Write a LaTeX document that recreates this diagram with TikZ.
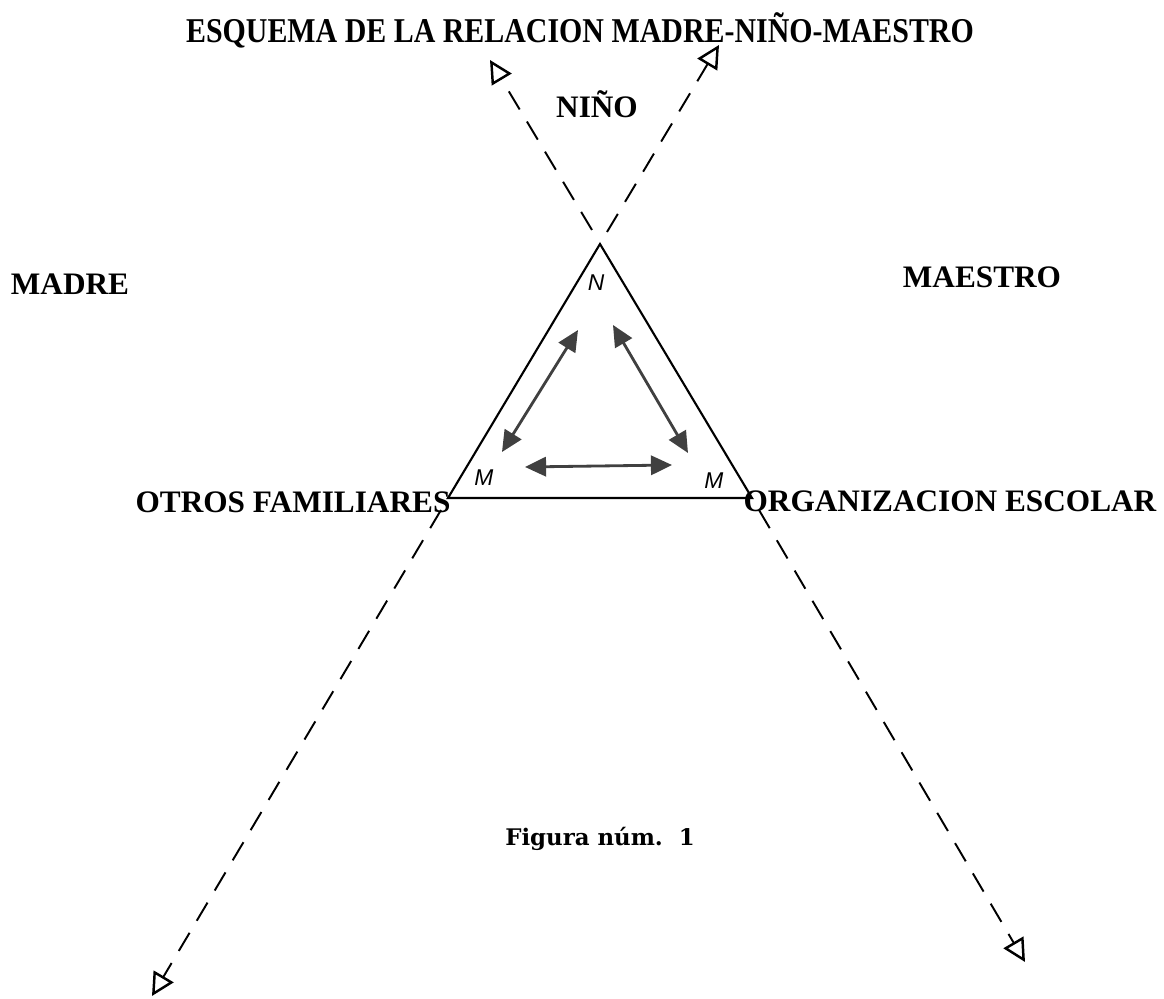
\documentclass[tikz,border=0pt]{standalone}
\usepackage{fontspec}
\setmainfont{Liberation Serif}
\newfontfamily\titlefont{Liberation Serif}[FakeStretch=0.86]
\newfontfamily\figfont{DejaVu Serif}
\newfontfamily\handfont{Liberation Sans}
\usetikzlibrary{arrows.meta}

\begin{document}
\begin{tikzpicture}[x=0.02cm, y=-0.02cm,
  member/.style={font=\fontsize{17.8}{18}\selectfont\bfseries, inner sep=0pt, anchor=base},
  heading/.style={font=\fontsize{19.8}{20}\selectfont\titlefont\bfseries, inner sep=0pt, anchor=base},
  caption/.style={font=\fontsize{13}{13}\selectfont\figfont\bfseries, inner sep=0pt, anchor=base},
  corner/.style={font=\fontsize{13}{13}\selectfont\handfont\itshape, inner sep=0pt},
  relarrow/.style={{Triangle[length=12pt,width=11pt]}-{Triangle[length=12pt,width=11pt]}, line width=1.6pt, draw=black!75},
  dashext/.style={-{Triangle[open,length=13pt,width=13pt,line width=1.4pt]}, dash pattern=on 12pt off 8pt, line width=1.1pt}]
\useasboundingbox (0,0) rectangle (1164,999);

\path (580,43) node[heading] (title) {ESQUEMA DE LA RELACION MADRE-NIÑO-MAESTRO}
      (597,118) node[member] (nino) {NIÑO}
      (70,295) node[member] (madre) {MADRE}
      (982,288) node[member] (maestro) {MAESTRO}
      (293,513) node[member] (otros) {OTROS FAMILIARES}
      (950,512) node[member] (escuela) {ORGANIZACION ESCOLAR}
      (600,846) node[caption] (fig) {Figura núm.~~1};

% triangle
\coordinate (N) at (600,244);
\coordinate (ML) at (448,498);
\coordinate (MR) at (752,498);
\draw[line width=1.2pt, line join=miter] (N) -- (MR) -- (ML) -- cycle;
\draw[line width=1.6pt] (ML) -- (MR);

\path (596,283) node[corner] (cN) {N}
      (484,478) node[corner] (cML) {M}
      (714,481) node[corner] (cMR) {M};

% inner relations
\coordinate (a1) at (578,330);
\coordinate (a2) at (502,452);
\coordinate (a3) at (613,325);
\coordinate (a4) at (688,453);
\coordinate (a5) at (525,467);
\coordinate (a6) at (672,465);
\draw[relarrow] (a1) -- (a2);
\draw[relarrow] (a3) -- (a4);
\draw[relarrow] (a5) -- (a6);

% dashed extensions
\coordinate (ul0) at (592,230);
\coordinate (ul1) at (490,60);
\coordinate (ur0) at (607,232);
\coordinate (ur1) at (719,45);
\coordinate (ll0) at (441,510);
\coordinate (ll1) at (152,996);
\coordinate (lr0) at (759,510);
\coordinate (lr1) at (1025,962);
\draw[dashext] (ul0) -- (ul1);
\draw[dashext] (ur0) -- (ur1);
\draw[dashext] (ll0) -- (ll1);
\draw[dashext] (lr0) -- (lr1);

\end{tikzpicture}
\end{document}
